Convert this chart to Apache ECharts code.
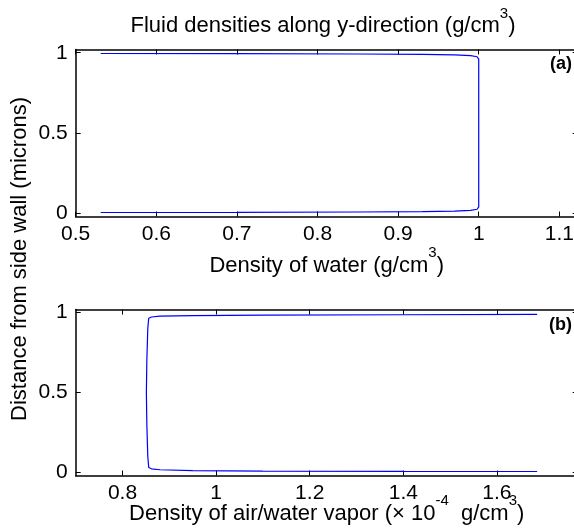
<!DOCTYPE html>
<html>
<head>
<meta charset="utf-8">
<script src="https://cdn.jsdelivr.net/npm/echarts@6/dist/echarts.min.js"></script>
<style>
html,body{margin:0;padding:0;background:#fff;}
#chart{width:574px;height:531px;}
</style>
</head>
<body>
<div id="chart"></div>
<script>
// Panel (a): density of water (g/cm^3) vs distance from side wall (microns)
const waterDensity = [0.531, 0.70, 0.85, 0.93, 0.97, 0.99, 0.998, 1.0, 1.0, 1.0, 0.998, 0.99, 0.97, 0.93, 0.85, 0.70, 0.531];
const waterY       = [0.005, 0.006, 0.008, 0.010, 0.013, 0.018, 0.025, 0.04, 0.5, 0.96, 0.975, 0.982, 0.987, 0.990, 0.992, 0.994, 0.995];

// Panel (b): density of air/water vapor (x1e-4 g/cm^3) vs distance
const vaporDensity = [1.686, 1.40, 1.10, 0.95, 0.88, 0.862, 0.856, 0.854, 0.852, 0.851, 0.852, 0.854, 0.856, 0.862, 0.88, 0.95, 1.10, 1.40, 1.686];
const vaporY       = [0.005, 0.006, 0.008, 0.011, 0.016, 0.022, 0.03, 0.1, 0.3, 0.5, 0.7, 0.9, 0.965, 0.973, 0.978, 0.982, 0.985, 0.987, 0.99];

// Tick labels
const xTicksA = [0.5, 0.6, 0.7, 0.8, 0.9, 1.0, 1.1];
const xTicksB = [0.8, 1.0, 1.2, 1.4, 1.6];
const yTicks  = [0, 0.5, 1];

const FONT = 'Liberation Sans, Arial, Helvetica, sans-serif';
const lineColor = '#0000ff';

function pairs(xs, ys){ return xs.map((x,i)=>[x, ys[i]]); }

const rich = {
  n: {fontSize: 22, fontFamily: FONT, color: '#000', lineHeight: 31, verticalAlign: 'bottom'},
  s: {fontSize: 15, fontFamily: FONT, color: '#000', lineHeight: 31, verticalAlign: 'top'}
};

const axisLineStyle = {color: '#000', width: 1.5};

function xAx(gridIndex, min, max, ticks, pos, name, gap){
  const showLab = pos === 'bottom';
  return {
    type: 'value', gridIndex, min, max, position: pos,
    splitLine: {show: false},
    axisLine: {show: true, onZero: false, lineStyle: axisLineStyle},
    axisTick: {show: true, inside: true, length: 5, customValues: ticks, lineStyle: {color: '#000', width: 1}},
    axisLabel: {show: showLab, customValues: ticks, color: '#000', fontSize: 21, fontFamily: FONT, margin: 7},
    name: name || '', nameLocation: 'middle', nameGap: gap || 30, nameMoveOverlap: false,
    nameTextStyle: {rich}
  };
}
function yAx(gridIndex, pos){
  const showLab = pos === 'left';
  return {
    type: 'value', gridIndex, min: -0.02, max: 1.02, position: pos,
    splitLine: {show: false},
    axisLine: {show: true, onZero: false, lineStyle: axisLineStyle},
    axisTick: {show: true, inside: true, length: 5, customValues: yTicks, lineStyle: {color: '#000', width: 1}},
    axisLabel: {show: showLab, customValues: yTicks, color: '#000', fontSize: 21, fontFamily: FONT, margin: 8}
  };
}

const chart = echarts.init(document.getElementById('chart'), null, {renderer: 'canvas'});
chart.setOption({
  animation: false,
  backgroundColor: '#fff',
  grid: [
    {left: 75.7, top: 49.5, width: 502, height: 167, outerBoundsMode: 'none', containLabel: false},
    {left: 75.7, top: 309.5, width: 502, height: 166, outerBoundsMode: 'none', containLabel: false}
  ],
  xAxis: [
    xAx(0, 0.5, 1.1228, xTicksA, 'bottom', '{n|Density of water (g/cm}{s|3}{n|)}', 29),
    xAx(0, 0.5, 1.1228, xTicksA, 'top'),
    xAx(1, 0.7, 1.7726, xTicksB, 'bottom', '{n|Density of air/water vapor (× 10}{s|-4}{n|  g/cm}{s|3}{n|)}', 18),
    xAx(1, 0.7, 1.7726, xTicksB, 'top')
  ],
  yAxis: [ yAx(0, 'left'), yAx(0, 'right'), yAx(1, 'left'), yAx(1, 'right') ],
  series: [
    {type: 'line', xAxisIndex: 0, yAxisIndex: 0, data: pairs(waterDensity, waterY), showSymbol: false, smooth: false,
     lineStyle: {color: lineColor, width: 1.2}, itemStyle: {color: lineColor}},
    {type: 'line', xAxisIndex: 2, yAxisIndex: 2, data: pairs(vaporDensity, vaporY), showSymbol: false, smooth: false,
     lineStyle: {color: lineColor, width: 1.2}, itemStyle: {color: lineColor}}
  ],
  graphic: [
    {type: 'text', x: 323, y: 6, style: {text: '{n|Fluid densities along y-direction (g/cm}{s|3}{n|)}', rich, align: 'center', textAlign: 'center'}},
    {type: 'text', x: 20, y: 259, rotation: Math.PI/2,
     style: {text: 'Distance from side wall (microns)', font: '22px ' + FONT, fill: '#000', align: 'center', verticalAlign: 'middle', textAlign: 'center', textVerticalAlign: 'middle'}},
    {type: 'text', x: 550, y: 55, style: {text: '(a)', font: 'bold 18px ' + FONT, fill: '#000'}},
    {type: 'text', x: 549, y: 316, style: {text: '(b)', font: 'bold 18px ' + FONT, fill: '#000'}}
  ]
});
</script>
</body>
</html>
